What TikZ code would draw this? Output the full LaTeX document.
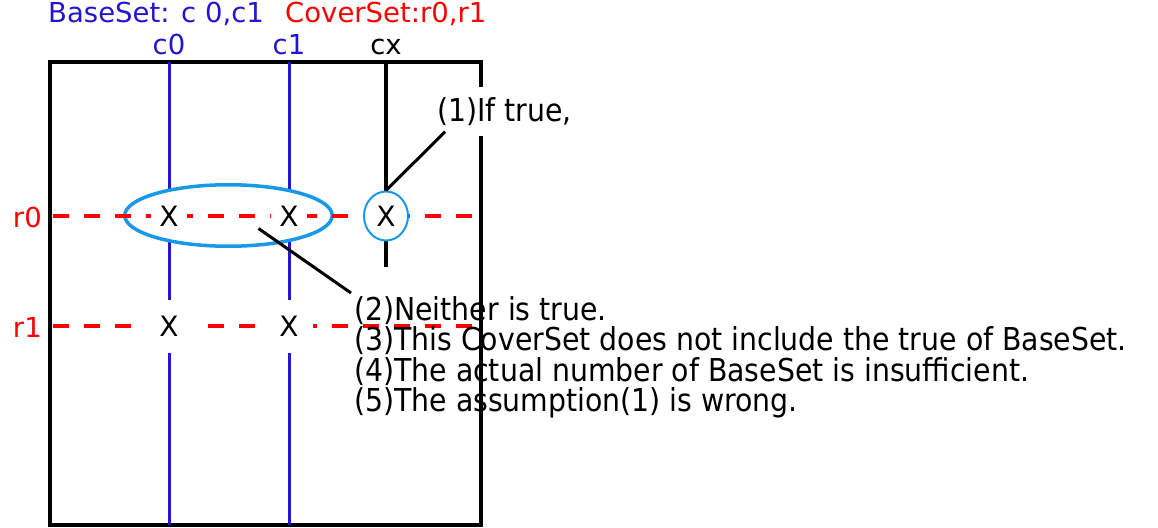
\documentclass[tikz,border=0pt]{standalone}
\usepackage{fontspec}
\setmainfont{DejaVu Sans}
\newfontfamily\condfont{DejaVu Sans Condensed}
\usetikzlibrary{shapes.geometric}
\definecolor{basecol}{RGB}{36,22,208}
\definecolor{ringcol}{RGB}{26,152,232}
\begin{document}
\begin{tikzpicture}[x=1pt,y=-1pt,
	small/.style={font=\fontsize{27.5}{27.5}\selectfont},
	note/.style={font=\condfont\fontsize{31.5}{30.5}\selectfont,align=left},
	column/.style={basecol,line width=3pt},
	cover/.style={red,line width=4pt,dash pattern=on 15.5pt off 15.5pt},
	cross/.style={font=\fontsize{28}{28}\selectfont,fill=white,inner sep=0pt,minimum width=48pt,minimum height=53pt},
	crossin/.style={cross,minimum width=36pt,minimum height=36pt},
	leader/.style={line width=3pt}]
	\useasboundingbox (0,0) rectangle (1158,527);
	\node (base) at (48,23) [small,basecol,anchor=base west,inner sep=0pt] {BaseSet: c 0,c1};
	\node (cover) at (285,23) [small,red,anchor=base west,inner sep=0pt] {CoverSet:r0,r1};
	\draw[line width=3.5pt] (50,62) rectangle (481,525);
	\foreach \x/\n in {169/c0,289/c1} {
		\node (\n) at (\x,55) [small,basecol,anchor=base] {\n};
		\draw[column] (\x,62) -- (\x,525);
	}
	\node (cx) at (386,55) [small,anchor=base] {cx};
	\draw[line width=4pt] (386,62) -- (386,267);
	\node (grp) at (228.5,215.5) [ellipse,draw=ringcol,line width=3.5pt,fill=white,
		minimum width=207.5pt,minimum height=61.5pt] {};
	\node (r0) at (42,227) [small,red,anchor=base east,inner sep=0pt] {r0};
	\node (r1) at (42,337) [small,red,anchor=base east,inner sep=0pt] {r1};
	\draw[cover] (53,216) -- (472,216);
	\draw[cover] (53,326) -- (472,326);
	\node (x00) at (169,216) [crossin] {X};
	\node (x10) at (289,216) [crossin] {X};
	\node (x01) at (169,326) [cross] {X};
	\node (x11) at (289,326) [cross] {X};
	\node (ring) at (386,216) [ellipse,draw=ringcol,line width=2pt,fill=white,
		font=\fontsize{28}{28}\selectfont,inner sep=0pt,minimum width=44pt,minimum height=49pt] {X};
	\node (t1) at (435,111.5) [note,fill=white,anchor=west,inner xsep=2pt,inner ysep=10pt] {(1)If true,};
	\node (t2) at (351,293) [note,anchor=north west,inner sep=3pt] {
		(2)Neither is true.\\
		(3)This CoverSet does not include the true of BaseSet.\\
		(4)The actual number of BaseSet is insufficient.\\
		(5)The assumption(1) is wrong.
	};
	\draw[leader] ([xshift=10pt,yshift=4pt]t1.south west) -- (ring.north);
	\draw[leader] ([xshift=30pt,yshift=-13pt]grp.center) -- (t2.north west);
\end{tikzpicture}
\end{document}
